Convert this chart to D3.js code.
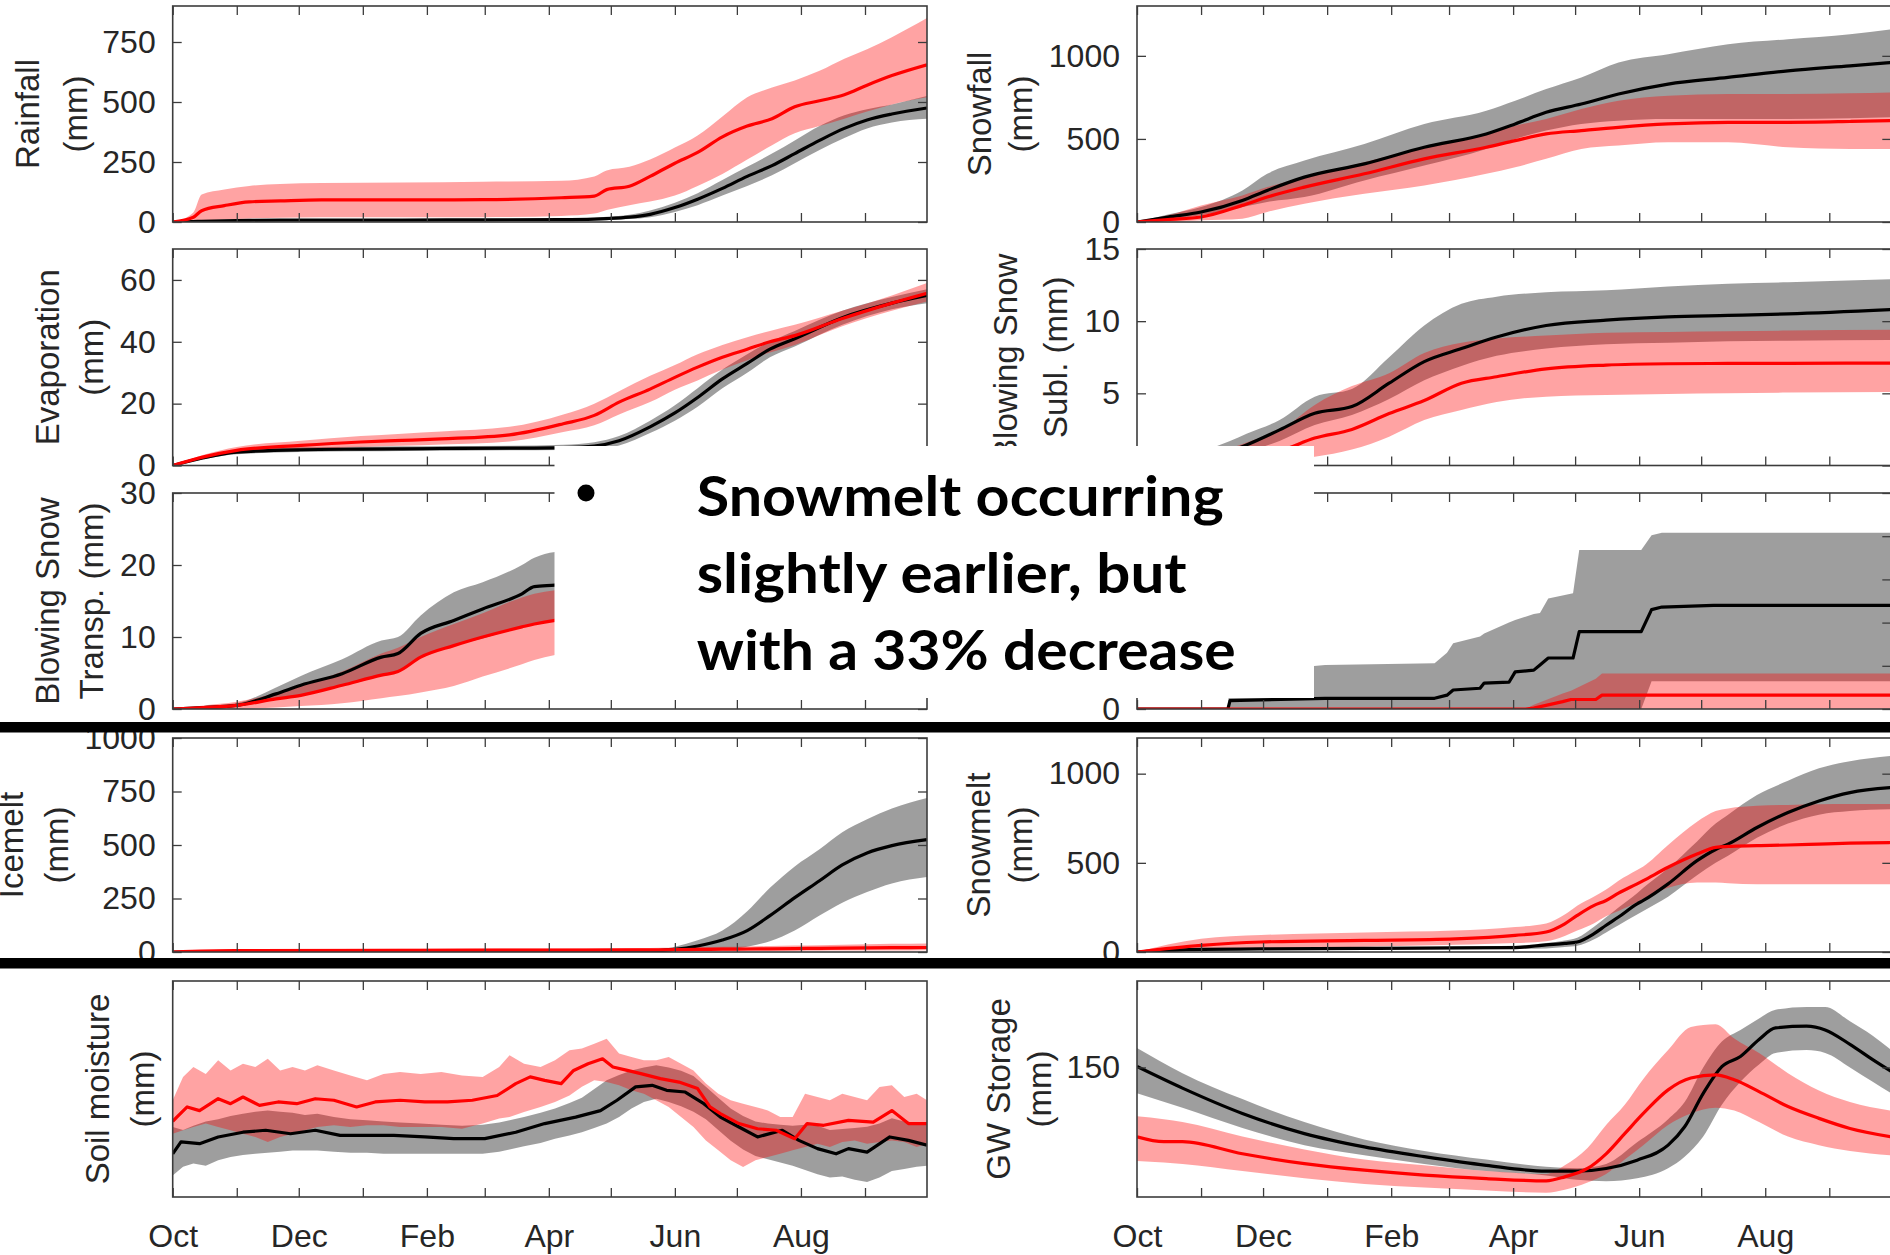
<!DOCTYPE html>
<html>
<head>
<meta charset="utf-8">
<script src="https://cdn.jsdelivr.net/npm/d3@7"></script>
<style>
  html, body { margin: 0; padding: 0; background: #fff; }
  svg { display: block; }
</style>
</head>
<body>
<svg id="fig" width="1890" height="1255"></svg>
<script>
// ---------------------------------------------------------------
// Water-year series (day 0 = 1 Oct). "hist" = black ensemble,
// "fut" = red ensemble. Each ensemble: mean line + min/max band.
// ---------------------------------------------------------------

const xTickLabels = ["Oct", "Dec", "Feb", "Apr", "Jun", "Aug"];

// Rainfall (mm)
const rainDomain = [0, 900];
const rainTicks = [0, 250, 500, 750];
const rainDays    = [0, 10, 14, 25, 37, 52, 72, 111, 150, 188, 204, 210, 221, 231, 243, 254, 266, 278, 290, 301, 313, 325, 336, 348, 365];
const rainHistMean = [0, 2, 3, 5, 7, 8, 8, 8, 9, 10, 12, 14, 20, 32, 60, 95, 140, 190, 235, 285, 340, 390, 425, 450, 475];
const rainHistHi   = [0, 4, 6, 9, 11, 12, 12, 12, 13, 15, 18, 22, 30, 48, 80, 120, 175, 230, 285, 340, 400, 445, 470, 490, 525];
const rainHistLo   = [0, 0, 1, 2, 4, 5, 5, 5, 5, 6, 7, 8, 12, 20, 42, 70, 110, 150, 195, 245, 300, 350, 390, 415, 430];
const rainFutMean  = [0, 20, 47, 68, 84, 88, 92, 92, 93, 101, 108, 135, 149, 190, 245, 290, 355, 400, 430, 480, 505, 530, 570, 610, 655];
const rainFutHi    = [0, 40, 115, 135, 150, 158, 162, 165, 168, 172, 190, 215, 230, 260, 310, 360, 440, 520, 560, 590, 630, 680, 720, 770, 850];
const rainFutLo    = [0, 0, 5, 10, 15, 18, 20, 20, 20, 25, 35, 50, 70, 85, 110, 150, 200, 260, 320, 370, 400, 430, 460, 490, 520];

// Snowfall (mm)
const snowDomain = [0, 1300];
const snowTicks = [0, 500, 1000];
const snowDays     = [0, 15, 31, 51, 63, 81, 110, 139, 169, 183, 198, 215, 233, 257, 286, 315, 345, 365];
const snowHistMean = [0, 30, 60, 130, 190, 270, 350, 450, 530, 590, 660, 710, 770, 830, 870, 910, 940, 960];
const snowHistHi   = [0, 45, 90, 190, 290, 370, 470, 590, 670, 730, 800, 870, 960, 1010, 1070, 1100, 1130, 1160];
const snowHistLo   = [0, 15, 40, 90, 120, 150, 250, 340, 440, 500, 550, 590, 610, 620, 620, 620, 625, 630];
const snowFutMean  = [0, 15, 30, 100, 150, 210, 290, 380, 450, 490, 530, 550, 570, 590, 600, 600, 605, 610];
const snowFutHi    = [0, 40, 100, 160, 210, 270, 360, 450, 530, 580, 620, 680, 730, 760, 770, 770, 775, 780];
const snowFutLo    = [0, 0, 10, 20, 60, 110, 170, 220, 290, 330, 380, 440, 460, 480, 480, 450, 440, 440];

// Evaporation (mm)
const evapDomain = [0, 70];
const evapTicks = [0, 20, 40, 60];
const evapDays     = [0, 15, 31, 62, 91, 111, 130, 163, 189, 204, 216, 231, 243, 254, 266, 278, 289, 301, 324, 348, 365];
const evapHistMean = [0, 2.5, 4.3, 5.1, 5.3, 5.4, 5.5, 5.6, 5.8, 6.3, 8, 12.5, 17, 22, 28, 33, 37.6, 41, 47.8, 52.5, 55];
const evapHistHi   = [0, 3.0, 5.0, 5.9, 6.1, 6.2, 6.3, 6.4, 6.7, 7.5, 9.5, 14.5, 19.5, 25, 31, 36, 40, 43.5, 50, 54.5, 57];
const evapHistLo   = [0, 2.0, 3.6, 4.4, 4.6, 4.7, 4.8, 4.9, 5.0, 5.3, 6.5, 10.5, 14.5, 19, 25, 30, 35, 38.5, 45.5, 50.5, 52.5];
const evapFutMean  = [0, 2.8, 4.9, 6.5, 7.6, 8.1, 8.6, 9.9, 13.5, 16.2, 20.5, 24.7, 28.5, 31.8, 35, 37.6, 40, 42, 47.5, 52.5, 55.7];
const evapFutHi    = [0, 3.5, 6.0, 8.0, 9.5, 10.3, 11, 12.5, 16.5, 20, 24, 29, 32.5, 36, 39, 41.5, 43.5, 45.5, 50, 55, 59];
const evapFutLo    = [0, 2.2, 4.0, 5.2, 6.0, 6.4, 6.8, 7.8, 10.8, 13, 16.5, 20.5, 24.5, 27.5, 31, 34, 36.5, 39, 45, 50, 53];

// Blowing snow sublimation (mm)
const sublDomain = [0, 15];
const sublTicks = [0, 5, 10, 15];
const sublLabels = [5, 10, 15];
const sublDays     = [0, 15, 30, 45, 53, 69, 86, 104, 122, 139, 157, 174, 198, 227, 257, 286, 315, 365];
const sublHistMean = [0, 0.1, 0.4, 1.0, 1.43, 2.47, 3.62, 4.08, 5.7, 7.2, 8.1, 8.9, 9.7, 10.07, 10.3, 10.4, 10.5, 10.8];
const sublHistHi   = [0, 0.3, 0.9, 1.7, 2.2, 3.15, 4.77, 5.3, 7.5, 9.7, 11.2, 11.7, 12.0, 12.14, 12.4, 12.6, 12.7, 12.9];
const sublHistLo   = [0, 0, 0.1, 0.5, 0.9, 1.7, 2.8, 3.5, 4.6, 5.9, 6.9, 7.6, 8.1, 8.4, 8.5, 8.6, 8.65, 8.7];
const sublFutMean  = [0, 0, 0.1, 0.4, 0.6, 1.0, 1.9, 2.5, 3.6, 4.5, 5.7, 6.15, 6.7, 6.96, 7.05, 7.07, 7.08, 7.1];
const sublFutHi    = [0, 0.2, 0.5, 1.2, 1.6, 2.4, 4.2, 5.5, 6.4, 7.8, 8.5, 8.8, 9.0, 9.2, 9.25, 9.3, 9.35, 9.4];
const sublFutLo    = [0, 0, 0, 0.1, 0.2, 0.35, 0.6, 1.1, 2.0, 3.15, 3.85, 4.4, 4.77, 4.88, 4.95, 5.0, 5.05, 5.1];

// Blowing snow transport (mm)
const trDomain = [0, 30];
const trTicks = [0, 10, 20, 30];
const trDays     = [0, 15, 31, 50, 62, 82, 101, 109, 120, 136, 150, 169, 175, 185, 195];
const trHistMean = [0, 0.2, 0.5, 2.1, 3.3, 4.9, 7.2, 7.7, 10.5, 12.3, 13.9, 16.0, 17.0, 17.2, 17.5];
const trHistHi   = [0, 0.4, 0.8, 3.0, 4.6, 6.9, 9.5, 10.0, 13.0, 16.2, 17.6, 20.0, 21.0, 21.8, 22.0];
const trHistLo   = [0, 0.1, 0.3, 1.4, 2.0, 3.2, 4.6, 5.3, 7.2, 8.8, 9.8, 11.4, 11.8, 12.3, 12.6];
const trFutMean  = [0, 0.2, 0.5, 1.4, 1.9, 3.3, 4.7, 5.2, 7.2, 8.8, 10.0, 11.4, 11.8, 12.3, 12.6];
const trFutHi    = [0, 0.5, 1.0, 2.2, 3.2, 5.2, 7.7, 8.5, 10.0, 11.8, 13.3, 15.5, 16.0, 16.5, 16.8];
const trFutLo    = [0, 0, 0, 0.2, 0.4, 0.8, 1.5, 1.8, 2.3, 3.2, 4.5, 6.2, 6.8, 7.5, 7.8];

// Stepwise redistribution panel (mm)
const stepDomain = [0, 25];
const stepTicks = [0, 5, 10, 15, 20, 25];
const stepLabels = [0];
const stepHistDays = [0, 44, 45, 91, 144, 150, 153, 166, 168, 180, 183, 192, 195, 199, 211, 214, 244, 249, 254, 279, 365];
const stepHistMean = [0, 0, 0.96, 1.24, 1.24, 1.6, 2.2, 2.4, 3.0, 3.1, 4.3, 4.5, 5.1, 5.9, 5.9, 8.95, 8.95, 11.5, 11.8, 12.0, 12.0];
const stepHistHi   = [0, 0, 4.1, 5.1, 5.3, 6.5, 7.6, 8.4, 8.75, 10.0, 10.3, 11.0, 11.1, 12.8, 13.4, 18.4, 18.4, 20.1, 20.4, 20.4, 20.4];
const stepHistLo   = [0, 0, 0, 0, 0, 0, 0, 0, 0, 0, 0, 0, 0, 0, 0, 0, 0, 3.2, 3.2, 3.2, 3.2];
const stepFutDays  = [0, 188, 192, 206, 210, 222, 225, 365];
const stepFutMean  = [0, 0, 0.1, 0.85, 1.1, 1.1, 1.6, 1.6];
const stepFutHi    = [0, 0, 0.5, 1.8, 2.1, 3.5, 4.1, 4.1];
const stepFutLo    = [0, 0, 0, 0, 0, 0, 0, 0];

// Icemelt (mm)
const iceDomain = [0, 1000];
const iceTicks = [0, 250, 500, 750, 1000];
const iceDays     = [0, 30, 120, 200, 220, 231, 243, 254, 266, 278, 289, 301, 313, 324, 336, 348, 365];
const iceHistMean = [0, 1, 1, 2, 3, 5, 12, 28, 56, 100, 170, 254, 333, 407, 463, 497, 525];
const iceHistHi   = [0, 2, 2, 3, 6, 10, 25, 55, 100, 190, 300, 400, 480, 560, 620, 670, 720];
const iceHistLo   = [0, 0, 0, 1, 1, 2, 4, 8, 12, 25, 50, 100, 170, 230, 280, 320, 350];
const iceFutMean  = [0, 6, 8, 9, 10, 10, 11, 12, 13, 14, 15, 16, 17, 18, 19, 20, 21];
const iceFutHi    = [0, 12, 15, 17, 18, 19, 20, 22, 24, 26, 28, 30, 32, 34, 36, 38, 40];
const iceFutLo    = [0, 2, 3, 3, 4, 4, 4, 5, 5, 5, 6, 6, 6, 7, 7, 7, 8];

// Snowmelt (mm)
const meltDomain = [0, 1200];
const meltTicks = [0, 500, 1000];
const meltDays     = [0, 31, 60, 110, 154, 183, 198, 207, 213, 221, 227, 233, 242, 245, 257, 271, 280, 286, 300, 315, 330, 345, 365];
const meltHistMean = [0, 15, 17, 20, 23, 25, 40, 48, 56, 102, 150, 196, 270, 289, 382, 512, 575, 605, 698, 782, 847, 894, 922];
const meltHistHi   = [0, 20, 22, 26, 30, 35, 50, 65, 80, 140, 195, 250, 330, 360, 470, 620, 720, 770, 880, 960, 1030, 1070, 1100];
const meltHistLo   = [0, 10, 12, 14, 16, 18, 20, 28, 35, 70, 110, 150, 210, 230, 310, 430, 500, 540, 640, 720, 770, 790, 800];
const meltFutMean  = [0, 37, 56, 65, 74, 93, 112, 158, 205, 260, 289, 330, 382, 400, 475, 549, 587, 592, 596, 600, 605, 610, 614];
const meltFutHi    = [0, 75, 95, 110, 120, 140, 160, 210, 260, 310, 350, 400, 460, 480, 600, 730, 790, 805, 820, 825, 828, 830, 830];
const meltFutLo    = [0, 10, 20, 30, 40, 50, 60, 90, 120, 160, 200, 230, 280, 300, 360, 390, 390, 385, 380, 380, 380, 380, 380];

// Soil moisture (relative scale, no tick labels)
const soilDomain = [0, 100];
const soilTicks = [];
const soilHistLineDays = [0, 4, 13, 22, 34, 45, 57, 69, 81, 92, 107, 122, 136, 151, 166, 180, 195, 207, 215, 224, 232, 239, 248, 257, 265, 274, 283, 295, 303, 312, 321, 327, 336, 347, 356, 365];
const soilHistMean = [20, 25.5, 24.7, 27.8, 30, 30.9, 29.3, 30.9, 28.5, 28.5, 28.5, 27.8, 27, 27, 30, 34, 37, 40, 44.8, 51, 51.7, 49.4, 48.6, 43.2, 37, 32.4, 27.8, 30.9, 26.2, 22.4, 20, 22.4, 20.8, 27.8, 26.2, 24];
const soilFutLineDays = [0, 2, 7, 13, 22, 28, 34, 42, 51, 60, 69, 78, 89, 98, 110, 122, 133, 145, 157, 166, 173, 180, 188, 194, 201, 208, 213, 220, 227, 236, 245, 254, 260, 265, 274, 283, 292, 301, 307, 315, 327, 339, 348, 356, 365];
const soilFutMean = [35, 37, 41.7, 40, 45.5, 43.2, 46.3, 42.4, 44, 43.2, 45.5, 44.8, 41.7, 44, 44.8, 44, 44, 44.8, 47, 52.5, 55.6, 54, 52.5, 58.6, 61.7, 64, 60.2, 58.6, 57, 54.8, 53.2, 50.2, 41.7, 38.6, 34, 31.6, 30.9, 27, 34, 33.2, 35.5, 34.7, 40, 34, 34];
const soilBandDays = [0, 5, 10, 16, 22, 28, 34, 40, 46, 52, 58, 64, 70, 78, 86, 94, 102, 110, 120, 130, 140, 150, 158, 163, 170, 178, 185, 192, 198, 204, 210, 216, 222, 228, 234, 240, 246, 252, 258, 264, 270, 276, 282, 288, 294, 300, 306, 312, 318, 324, 330, 336, 342, 348, 354, 360, 365];
const soilFutHi  = [44.8, 55.6, 60.2, 57, 63.3, 58.6, 61.7, 60.2, 64, 58.6, 60.2, 58.6, 61, 58.6, 56.3, 54, 57, 57.9, 57, 57.9, 56.3, 55.6, 60.2, 65.6, 61.7, 60.2, 63.3, 67.9, 68.7, 71, 73.3, 66.4, 64.8, 63.3, 63.3, 64.8, 61.7, 58.6, 52.5, 47.8, 44.8, 43.2, 41.7, 40.1, 37, 37, 47.8, 46.3, 44.8, 47.8, 46.3, 44.8, 50.9, 51.7, 46.3, 47.8, 44.8];
const soilFutLo  = [29.3, 30.9, 32.4, 34, 32.4, 30.9, 29.3, 27.8, 25.5, 27.8, 29.3, 30.9, 32.4, 33.2, 32.4, 33.2, 33.2, 32.4, 32.4, 32.4, 31.6, 34, 36.3, 37, 39.4, 41.7, 44, 47, 51, 54, 53.2, 51.7, 49.4, 47.8, 44.8, 41.7, 37, 32.4, 26.2, 21.6, 17, 13.9, 17, 18.5, 20, 21.6, 23.1, 24.7, 23.1, 25.5, 26.2, 24.7, 25.5, 26.2, 25.5, 23.1, 24.7];
const soilHistHi = [32.4, 31, 33, 35, 36, 37.5, 38.5, 39.5, 40, 39.5, 39, 38, 38.5, 37, 36, 35.5, 35, 34.5, 34, 33.5, 33, 33.5, 34.5, 35.5, 37, 39, 41, 43.5, 46, 50, 54, 56.5, 58.6, 60, 61, 60, 58.5, 56, 51, 46, 41, 37.5, 35, 34, 33.5, 33, 33.5, 33, 31, 31.5, 32, 32.5, 34, 36.5, 35, 34.5, 34];
const soilHistLo = [10, 14, 15.5, 14.5, 17, 18.5, 19.5, 20, 20.5, 21, 21.5, 21.5, 21.5, 21, 20.5, 20.5, 20, 20, 20, 20, 20, 20, 21, 22, 23.5, 25, 27, 28.5, 30, 32, 34, 37, 41, 44, 45.5, 44, 42, 39.5, 36, 31, 26, 22, 19, 17.5, 16, 14.5, 12.5, 10.5, 9, 9.5, 8, 7, 9, 12, 13, 14, 14.5];

// Groundwater storage (mm)
const gwDomain = [105, 180];
const gwTicks = [150];
const gwHistDays = [0, 22, 51, 81, 110, 139, 169, 198, 213, 227, 242, 257, 265, 274, 283, 292, 301, 309, 324, 333, 345, 356, 365];
const gwHistMean = [150.3, 142.8, 134, 127, 122.4, 119, 116, 114, 114, 114.9, 117.8, 123, 129.4, 141, 150.3, 153.8, 159.7, 163.7, 164.3, 163, 158, 152.7, 148.6];
const gwHistHi   = [156.7, 148, 139, 131, 125, 121, 118, 115.5, 115, 116.5, 124, 132, 138, 150, 159, 163, 167, 170, 171, 171, 166, 161, 156];
const gwHistLo   = [141, 136, 129, 123, 119.5, 116.5, 114, 112.5, 111, 110.5, 111.5, 115, 119, 126, 137, 145, 151, 155, 156, 155, 150, 145, 141];
const gwFutDays  = [0, 13, 22, 51, 81, 110, 139, 169, 198, 207, 218, 227, 236, 245, 257, 268, 280, 289, 301, 315, 330, 345, 365];
const gwFutMean  = [125.9, 124.2, 124.2, 120, 116.6, 114.3, 112.6, 111.4, 110.6, 112, 114.9, 120, 127, 134, 142.2, 146.3, 147.4, 145.7, 141.6, 136.4, 132.3, 128.8, 125.9];
const gwFutHi    = [133, 132, 131, 126, 121.5, 118, 116, 114, 113, 116, 122, 130, 137, 146, 156, 164, 165, 160, 155, 148, 142, 138, 135];
const gwFutLo    = [117.5, 117, 116.5, 114, 111.5, 109.5, 108.3, 107.3, 106.5, 107.5, 110, 113, 118, 123, 130, 134, 136, 135, 131, 126, 123, 121, 119.5];

// Callout text
const noteLines = ["Snowmelt occurring", "slightly earlier, but", "with a 33% decrease"];

// ---------------------------------------------------------------
// Layout and styling
// ---------------------------------------------------------------
const layout = {
  colX: [172.7, 1137],
  plotW: 754.3,
  rows: [[6, 222], [249, 465.5], [493, 709], [738, 952], [981, 1197]],
  tick: 9,
  tickPad: 17,
  xLabelPad: 27,
  bars: [[722, 10.5], [958, 10.5]],
  note: { x: 554.5, y: 446, w: 759.5, h: 252, textX: 696.7, bulletX: 586, bulletY: 493, bulletR: 8.5,
          baseline: 516, lineGap: 77, widths: [527, 490, 539] }
};
const FONT = "'Liberation Sans', Arial, Helvetica, sans-serif";
const TEXT_COLOR = "#262626";
const AXIS_COLOR = "#3c3c3c";

const svg = d3.select("#fig");
const startMs = Date.UTC(2000, 9, 1);
const dayToDate = d => new Date(startMs + d * 864e5);
const monthTicks = d3.utcMonth.range(dayToDate(0), dayToDate(365));

const ser = (days, mean, lo, hi, bandDays) => ({ days, mean, lo, hi, bandDays: bandDays || days });

const panels = [
  { col: 0, row: 0, domain: rainDomain, ticks: rainTicks, title: ["Rainfall", "(mm)"], titleX: [27, 75], curve: d3.curveMonotoneX,
    hist: ser(rainDays, rainHistMean, rainHistLo, rainHistHi), fut: ser(rainDays, rainFutMean, rainFutLo, rainFutHi) },
  { col: 1, row: 0, domain: snowDomain, ticks: snowTicks, title: ["Snowfall", "(mm)"], titleX: [979, 1020], curve: d3.curveMonotoneX,
    hist: ser(snowDays, snowHistMean, snowHistLo, snowHistHi), fut: ser(snowDays, snowFutMean, snowFutLo, snowFutHi) },
  { col: 0, row: 1, domain: evapDomain, ticks: evapTicks, title: ["Evaporation", "(mm)"], titleX: [47.5, 91], curve: d3.curveMonotoneX,
    hist: ser(evapDays, evapHistMean, evapHistLo, evapHistHi), fut: ser(evapDays, evapFutMean, evapFutLo, evapFutHi) },
  { col: 1, row: 1, domain: sublDomain, ticks: sublTicks, labels: sublLabels, title: ["Blowing Snow", "Subl. (mm)"], titleX: [1005, 1055], curve: d3.curveMonotoneX,
    hist: ser(sublDays, sublHistMean, sublHistLo, sublHistHi), fut: ser(sublDays, sublFutMean, sublFutLo, sublFutHi) },
  { col: 0, row: 2, domain: trDomain, ticks: trTicks, title: ["Blowing Snow", "Transp. (mm)"], titleX: [47.5, 91], curve: d3.curveMonotoneX,
    hist: ser(trDays, trHistMean, trHistLo, trHistHi), fut: ser(trDays, trFutMean, trFutLo, trFutHi) },
  { col: 1, row: 2, domain: stepDomain, ticks: stepTicks, labels: stepLabels, title: [], titleX: [], curve: d3.curveLinear,
    hist: ser(stepHistDays, stepHistMean, stepHistLo, stepHistHi), fut: ser(stepFutDays, stepFutMean, stepFutLo, stepFutHi) },
  { col: 0, row: 3, domain: iceDomain, ticks: iceTicks, title: ["Icemelt", "(mm)"], titleX: [11, 56], curve: d3.curveMonotoneX,
    hist: ser(iceDays, iceHistMean, iceHistLo, iceHistHi), fut: ser(iceDays, iceFutMean, iceFutLo, iceFutHi) },
  { col: 1, row: 3, domain: meltDomain, ticks: meltTicks, title: ["Snowmelt", "(mm)"], titleX: [978, 1020], curve: d3.curveMonotoneX,
    hist: ser(meltDays, meltHistMean, meltHistLo, meltHistHi), fut: ser(meltDays, meltFutMean, meltFutLo, meltFutHi) },
  { col: 0, row: 4, domain: soilDomain, ticks: soilTicks, title: ["Soil moisture", "(mm)"], titleX: [97, 142], curve: d3.curveLinear,
    hist: ser(soilHistLineDays, soilHistMean, soilHistLo, soilHistHi, soilBandDays),
    fut: ser(soilFutLineDays, soilFutMean, soilFutLo, soilFutHi, soilBandDays) },
  { col: 1, row: 4, domain: gwDomain, ticks: gwTicks, title: ["GW Storage", "(mm)"], titleX: [998, 1039], curve: d3.curveMonotoneX,
    hist: ser(gwHistDays, gwHistMean, gwHistLo, gwHistHi), fut: ser(gwFutDays, gwFutMean, gwFutLo, gwFutHi) }
];

function styleAxis(g, withText) {
  g.select(".domain").remove();
  g.selectAll(".tick line").attr("stroke", AXIS_COLOR).attr("stroke-width", 1.3);
  g.selectAll(".tick text")
    .attr("fill", TEXT_COLOR)
    .style("font-family", FONT)
    .style("font-size", "32px");
  if (!withText) g.selectAll(".tick text").remove();
  // drop empty labels so no blank text nodes remain
  g.selectAll(".tick text").filter(function () { return this.textContent === ""; }).remove();
}

function drawPanel(p) {
  const x0 = layout.colX[p.col];
  const x1 = x0 + layout.plotW;
  const [top, bot] = layout.rows[p.row];
  const x = d3.scaleUtc().domain([dayToDate(0), dayToDate(365)]).range([x0, x1]);
  const y = d3.scaleLinear().domain(p.domain).range([bot, top]);

  const clipId = `clip-${p.col}-${p.row}`;
  svg.append("clipPath").attr("id", clipId)
    .append("rect").attr("x", x0).attr("y", top).attr("width", x1 - x0).attr("height", bot - top);

  const g = svg.append("g");
  const plot = g.append("g").attr("clip-path", `url(#${clipId})`);

  const bandPath = s => d3.area()
    .curve(p.curve)
    .x(d => x(dayToDate(d[0])))
    .y0(d => y(d[1]))
    .y1(d => y(d[2]))(d3.zip(s.bandDays, s.lo, s.hi));
  const linePath = s => d3.line()
    .curve(p.curve)
    .x(d => x(dayToDate(d[0])))
    .y(d => y(d[1]))(d3.zip(s.days, s.mean));

  plot.append("path").attr("d", bandPath(p.hist)).attr("fill", "#000").attr("fill-opacity", 0.38);
  plot.append("path").attr("d", bandPath(p.fut)).attr("fill", "#ff0000").attr("fill-opacity", 0.36);
  plot.append("path").attr("d", linePath(p.hist)).attr("fill", "none")
    .attr("stroke", "#000").attr("stroke-width", 3.2).attr("stroke-linejoin", "round");
  plot.append("path").attr("d", linePath(p.fut)).attr("fill", "none")
    .attr("stroke", "#ff0000").attr("stroke-width", 3.2).attr("stroke-linejoin", "round");

  // x ticks (inward, top and bottom)
  const isBottomRow = p.row === layout.rows.length - 1;
  const fmt = (d, i) => (isBottomRow && i % 2 === 0) ? xTickLabels[i / 2] : "";
  g.append("g").attr("transform", `translate(0,${bot})`)
    .call(d3.axisBottom(x).tickValues(monthTicks).tickSizeInner(-layout.tick).tickSizeOuter(0)
      .tickPadding(layout.xLabelPad).tickFormat(fmt))
    .call(a => styleAxis(a, isBottomRow));
  g.append("g").attr("transform", `translate(0,${top})`)
    .call(d3.axisTop(x).tickValues(monthTicks).tickSizeInner(-layout.tick).tickSizeOuter(0).tickFormat(""))
    .call(a => styleAxis(a, false));

  // y ticks (inward, left with labels and right plain)
  const labelled = p.labels || p.ticks;
  g.append("g").attr("transform", `translate(${x0},0)`)
    .call(d3.axisLeft(y).tickValues(p.ticks).tickSizeInner(-layout.tick).tickSizeOuter(0)
      .tickPadding(layout.tickPad).tickFormat(d => labelled.includes(d) ? d3.format("d")(d) : ""))
    .call(a => styleAxis(a, true));
  g.append("g").attr("transform", `translate(${x1},0)`)
    .call(d3.axisRight(y).tickValues(p.ticks).tickSizeInner(-layout.tick).tickSizeOuter(0).tickFormat(""))
    .call(a => styleAxis(a, false));

  // axes box
  g.append("rect").attr("x", x0).attr("y", top).attr("width", x1 - x0).attr("height", bot - top)
    .attr("fill", "none").attr("stroke", AXIS_COLOR).attr("stroke-width", 1.6);

  // two-line y-axis title
  const cy = (top + bot) / 2;
  p.title.forEach((t, i) => {
    g.append("text")
      .attr("transform", `translate(${p.titleX[i]},${cy}) rotate(-90)`)
      .attr("text-anchor", "middle")
      .attr("dominant-baseline", "central")
      .attr("fill", TEXT_COLOR)
      .style("font-family", FONT)
      .style("font-size", "33px")
      .text(t);
  });
}

panels.forEach(drawPanel);

// heavy separators between the groups of panels
layout.bars.forEach(([yb, h]) => {
  svg.append("rect").attr("x", 0).attr("y", yb).attr("width", 1890).attr("height", h).attr("fill", "#000");
});

// callout box
const n = layout.note;
const note = svg.append("g");
note.append("rect").attr("x", n.x).attr("y", n.y).attr("width", n.w).attr("height", n.h).attr("fill", "#fff");
note.append("circle").attr("cx", n.bulletX).attr("cy", n.bulletY).attr("r", n.bulletR).attr("fill", "#000");
noteLines.forEach((t, i) => {
  note.append("text")
    .attr("x", n.textX).attr("y", n.baseline + i * n.lineGap)
    .attr("textLength", n.widths[i]).attr("lengthAdjust", "spacingAndGlyphs")
    .style("font-family", "Lato, 'Open Sans', sans-serif").style("font-weight", 700).style("font-size", "55px")
    .attr("fill", "#000")
    .text(t);
});
</script>
</body>
</html>
